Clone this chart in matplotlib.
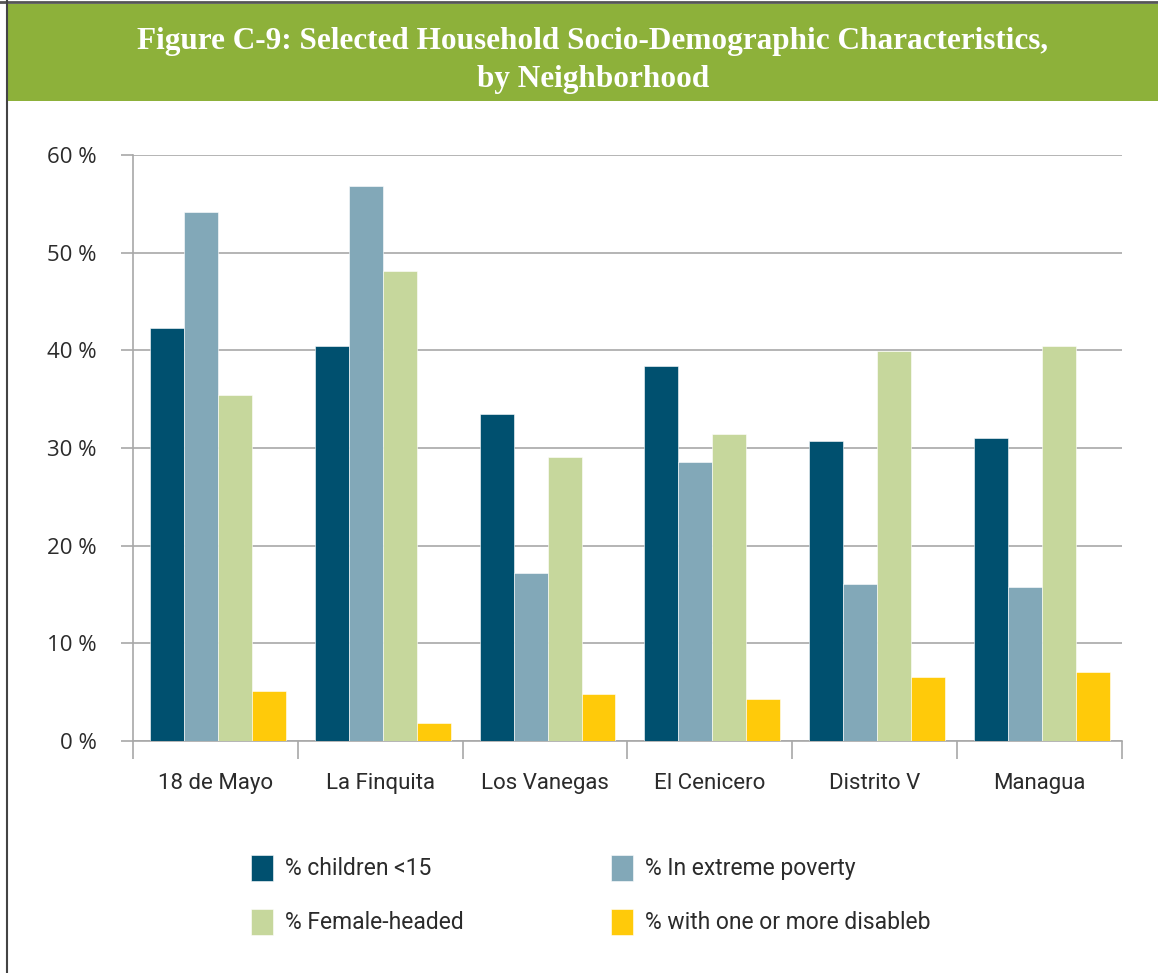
import matplotlib
matplotlib.use("Agg")
import matplotlib.pyplot as plt
from matplotlib.patches import Rectangle
from matplotlib.lines import Line2D
import numpy as np

neighborhoods = ["18 de Mayo", "La Finquita", "Los Vanegas", "El Cenicero", "Distrito V", "Managua"]
children_15 = [42.3, 40.4, 33.5, 38.4, 30.7, 31.0]
extreme_poverty = [54.2, 56.8, 17.2, 28.6, 16.1, 15.8]
female_headed = [35.4, 48.1, 29.1, 31.4, 39.9, 40.4]
disabled = [5.1, 1.8, 4.8, 4.3, 6.6, 7.1]
series_labels = ["% children <15", "% In extreme poverty", "% Female-headed", "% with one or more disableb"]
y_ticks = [0, 10, 20, 30, 40, 50, 60]

colors = ["#00506f", "#82a8b8", "#c6d79c", "#ffca0a"]
header_green = "#8db13a"
grid_gray = "#a8a8a8"
text_color = "#2b2b2b"

fig = plt.figure(figsize=(11.58, 9.73), dpi=100)

# green header band with title, thin frame on top and left
fig.patches.append(Rectangle((8 / 1158, 1 - 101 / 973), 1, 97 / 973, transform=fig.transFigure,
                             facecolor=header_green, edgecolor="none", zorder=0))
fig.lines.append(Line2D([0, 1], [1 - 2 / 973, 1 - 2 / 973], transform=fig.transFigure,
                        color="#555555", lw=2))
fig.lines.append(Line2D([7.5 / 1158, 7.5 / 1158], [0, 1], transform=fig.transFigure,
                        color="#444444", lw=1.5))
title_kw = dict(ha="center", va="center", color="white", fontsize=22.5, fontweight="bold",
                family="Liberation Serif")
fig.text(0.512, 1 - 42 / 973, "Figure C-9: Selected Household Socio-Demographic Characteristics,", **title_kw)
fig.text(0.512, 1 - 80 / 973, "by Neighborhood", **title_kw)

ax = fig.add_axes([133 / 1158, 1 - 741 / 973, (1122 - 133) / 1158, (741 - 155) / 973])

x = np.arange(len(neighborhoods))
width = 0.206
all_series = [children_15, extreme_poverty, female_headed, disabled]
bars = []
for i, (vals, col, lab) in enumerate(zip(all_series, colors, series_labels)):
    b = ax.bar(x + (i - 1.5) * width + 0.015, vals, width, color=col, label=lab,
               edgecolor="white", linewidth=0.4, zorder=3)
    bars.append(b)

ax.set_xlim(-0.5, len(neighborhoods) - 0.5)
ax.set_ylim(0, 60)
ax.set_yticks(y_ticks)
ax.set_yticklabels([f"{v} %" for v in y_ticks], fontsize=16, color=text_color, family="Open Sans")
ax.yaxis.grid(True, color=grid_gray, lw=1.2, zorder=0)
ax.tick_params(axis="y", length=9, color=grid_gray, width=1.2, pad=17)

# category labels sit between the group separators
ax.set_xticks(x)
ax.set_xticklabels(neighborhoods, fontsize=16, color=text_color, family="Roboto")
ax.tick_params(axis="x", length=0, pad=23)
ax.set_xticks(np.arange(-0.5, len(neighborhoods)), minor=True)
ax.tick_params(axis="x", which="minor", length=13, color=grid_gray, width=1.2)

for side in ["top", "right"]:
    ax.spines[side].set_visible(False)
for side in ["left", "bottom"]:
    ax.spines[side].set_color(grid_gray)
    ax.spines[side].set_linewidth(1.2)

# legend filled row by row
order = [0, 2, 1, 3]
leg = fig.legend([bars[k] for k in order], [series_labels[k] for k in order],
                 loc="upper left", bbox_to_anchor=(230 / 1158, 1 - 834 / 973), ncol=2,
                 frameon=False, prop={"family": "Roboto", "size": 16.5},
                 handlelength=0.96, handleheight=1.4, handletextpad=0.55,
                 columnspacing=6.4, labelspacing=1.2)
for t in leg.get_texts():
    t.set_color(text_color)

fig.savefig("out.png", dpi=100, facecolor="white")
